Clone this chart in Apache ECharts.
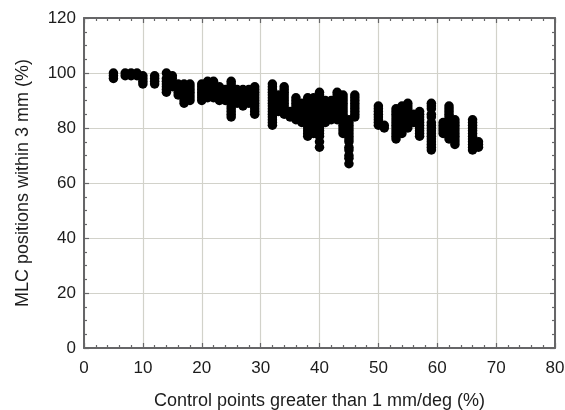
<!DOCTYPE html>
<html><head><meta charset="utf-8">
<style>html,body{margin:0;padding:0;background:#fff}#c{width:565px;height:410px}</style>
<script src="https://cdn.jsdelivr.net/npm/echarts@6/dist/echarts.min.js"></script></head>
<body><div id="c"></div>
<script>
const xLabel = 'Control points greater than 1 mm/deg (%)';
const yLabel = 'MLC positions within 3 mm (%)';
const columnX = [5,7,8,9,10,12,14,15,16,17,18,20,21,22,23,24,25,26,27,28,29,32,33,34,35,36,37,38,39,40,41,42,43,44,45,46,50,51,53,54,55,56,57,59,61,62,63,66,67];
const columnY = [
 [100,99,98],[100,99],[100,99],[100,99],[99,98,97,96],[99,98,97,96],[100,98,97,96,95,94,93],[99,98,96,95],
 [96,95,94,93,92],[96,95,94,93,92,91,90,89],[96,95,94,93,92,91,90],[96,95,94,93,92,91,90],[97,96,95,94,93,92,91],[97,96,95,94,93,92,91],[95,94,93,92,91,90],[94,93,92,91,90],
 [97,96,95,94,93,92,91,90,89,88,87,86,85,84],[94,93,92,91,90,89],[94,93,92,91,90,89,88],[94,93,92,91,90,89],[95,94,93,92,91,90,89,88,87,86,85],
 [96,95,94,93,92,91,90,89,88,87,86,85,84,83,82,81],[92,91,90,89,88,87,86],[95,94,93,92,91,90,89,88,87,86,85],[86,85,84],[91,90,89,88,87,86,85,84,83],[89,88,87,86,85,84,83,82],
 [91,90,89,88,87,86,85,84,83,82,81,80,79,78,77],[91,90,89,88,87,86,85,84,83,82,81,80,79,78],[93,92,91,89,88,87,86,85,84,83,82,81,80,79,78,77,75,73],[90,89,88,87,86,85,84,83,82],[90,89,88,87,86,85,84,83],[93,92,91,90,89,88,87,86,85,84,83],[92,91,90,89,88,87,86,85,84,83,82,81,80,79,78],
 [83,82,81,80,79,78,77,76,75,73,72,70,69,67],[92,91,90,89,88,87,86,85,84],
 [88,87,86,85,84,83,82,81],[81,80],[87,86,85,84,83,82,81,80,79,78,77,76],[88,87,86,85,84,83,82,81,80,79,78],[89,88,87,86,85,84,83,82,81,80],[85,84,83,82],[86,85,84,83,82,81,80,79,78,77],
 [89,88,87,85,84,82,81,80,79,78,77,76,75,74,73,72],[82,81,80,79,78],[88,87,86,85,84,83,82,81,80,79,78,77,76],[83,82,81,80,79,78,77,76,75,74],[83,82,81,80,79,78,77,76,75,74,73,72],[75,74,73]
];
const points = [];
columnX.forEach((x,i)=>columnY[i].forEach(y=>points.push([x,y])));
const lineC = '#666668', gridC = '#d2d2ca', textStyle = {color:'#1c1c1c',fontFamily:'"Liberation Sans",Arial,sans-serif'};
const commonX = {type:'value',min:0,max:80,interval:10,
  axisLine:{show:true,onZero:false,lineStyle:{color:lineC,width:2}},
  axisTick:{show:true,inside:true,length:5,lineStyle:{color:lineC,width:1.2}},
  minorTick:{show:true,splitNumber:5,length:3,lineStyle:{color:lineC,width:1.2}}};
const commonY = {type:'value',min:0,max:120,interval:20,
  axisLine:{show:true,onZero:false,lineStyle:{color:lineC,width:2}},
  axisTick:{show:true,inside:true,length:5,lineStyle:{color:lineC,width:1.2}},
  minorTick:{show:true,splitNumber:4,length:3,lineStyle:{color:lineC,width:1.2}}};
const chart = echarts.init(document.getElementById('c'),null,{renderer:'canvas'});
chart.setOption({
 animation:false,backgroundColor:'#fff',
 grid:{left:84,right:10,top:18,bottom:62,outerBoundsMode:'none'},
 xAxis:[
  {...commonX,position:'bottom',name:xLabel,nameLocation:'middle',nameGap:44,
   nameTextStyle:{...textStyle,fontSize:18},
   axisLabel:{...textStyle,fontSize:17,margin:12},
   splitLine:{show:true,lineStyle:{color:gridC,width:1.2}}},
  {...commonX,position:'top',axisLabel:{show:false},splitLine:{show:false}}
 ],
 yAxis:[
  {...commonY,position:'left',name:yLabel,nameLocation:'middle',nameGap:52,
   nameTextStyle:{...textStyle,fontSize:18},
   axisLabel:{...textStyle,fontSize:17,margin:8},
   splitLine:{show:true,lineStyle:{color:gridC,width:1.2}}},
  {...commonY,position:'right',axisLabel:{show:false},splitLine:{show:false}}
 ],
 series:[{type:'scatter',symbol:'circle',symbolSize:9.5,data:points,itemStyle:{color:'#000',opacity:1}}]
});
</script></body></html>
